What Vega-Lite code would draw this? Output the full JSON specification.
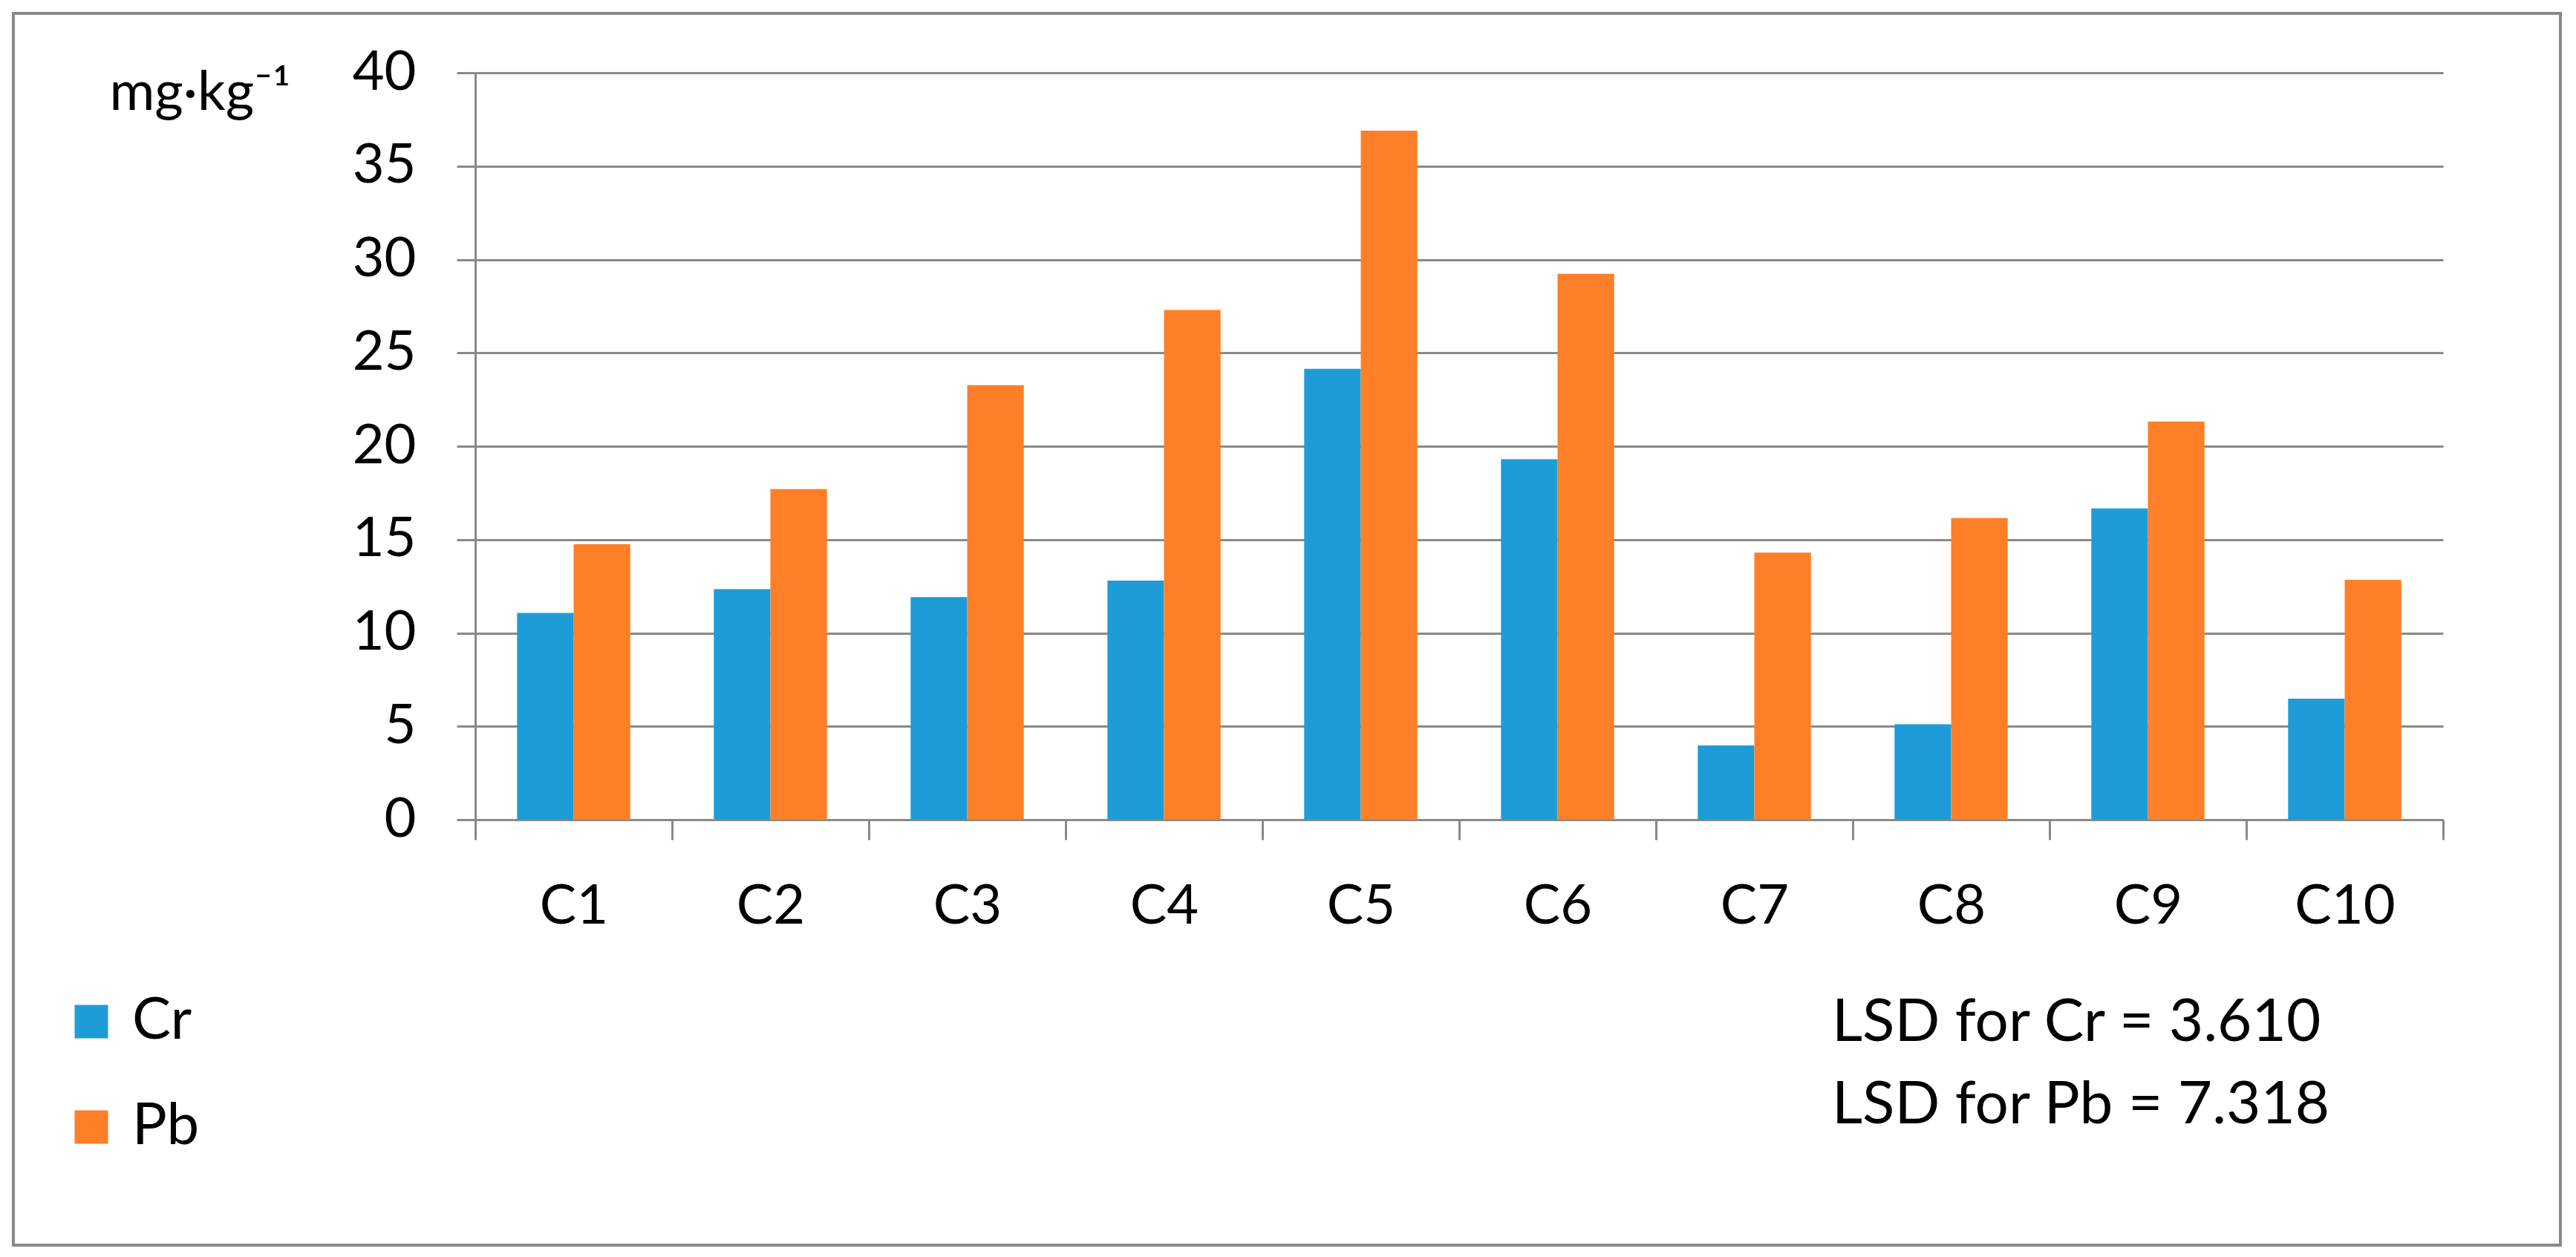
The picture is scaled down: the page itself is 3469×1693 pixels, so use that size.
{
  "$schema": "https://vega.github.io/schema/vega-lite/v6.json",
  "autosize": {"type": "none"},
  "width": 3430,
  "height": 1659,
  "padding": {"left": 18, "top": 18, "right": 21, "bottom": 16},
  "background": "white",
  "config": {
    "font": "Lato",
    "view": {"stroke": "#898989", "strokeWidth": 4}
  },
  "title": {
    "text": ["LSD for Cr = 3.610", "LSD for Pb = 7.318"],
    "orient": "top",
    "anchor": "start",
    "frame": "group",
    "align": "left",
    "baseline": "top",
    "fontSize": 80,
    "lineHeight": 111,
    "font": "Lato",
    "fontWeight": "normal",
    "color": "#000000",
    "offset": 0,
    "dx": 2449,
    "dy": 1512
  },
  "data": {
    "values": [
      {"site": "C1", "metal": "Cr", "value": 11.07},
      {"site": "C2", "metal": "Cr", "value": 12.35},
      {"site": "C3", "metal": "Cr", "value": 11.92},
      {"site": "C4", "metal": "Cr", "value": 12.8},
      {"site": "C5", "metal": "Cr", "value": 24.15},
      {"site": "C6", "metal": "Cr", "value": 19.3},
      {"site": "C7", "metal": "Cr", "value": 3.98},
      {"site": "C8", "metal": "Cr", "value": 5.11},
      {"site": "C9", "metal": "Cr", "value": 16.67},
      {"site": "C10", "metal": "Cr", "value": 6.48},
      {"site": "C1", "metal": "Pb", "value": 14.75},
      {"site": "C2", "metal": "Pb", "value": 17.7},
      {"site": "C3", "metal": "Pb", "value": 23.27},
      {"site": "C4", "metal": "Pb", "value": 27.3},
      {"site": "C5", "metal": "Pb", "value": 36.9},
      {"site": "C6", "metal": "Pb", "value": 29.23},
      {"site": "C7", "metal": "Pb", "value": 14.3},
      {"site": "C8", "metal": "Pb", "value": 16.15},
      {"site": "C9", "metal": "Pb", "value": 21.32},
      {"site": "C10", "metal": "Pb", "value": 12.84}
    ]
  },
  "mark": {"type": "bar"},
  "encoding": {
    "x": {
      "field": "site",
      "type": "nominal",
      "sort": ["C1", "C2", "C3", "C4", "C5", "C6", "C7", "C8", "C9", "C10"],
      "scale": {"range": [622, 3272], "paddingInner": 0, "paddingOuter": 0},
      "axis": {
        "title": null,
        "offset": -573,
        "labelAngle": 0,
        "labelFontSize": 74,
        "labelColor": "#000000",
        "labelPadding": 54,
        "tickBand": "extent",
        "tickSize": 27,
        "tickWidth": 3,
        "tickColor": "#898989",
        "domainColor": "#898989",
        "domainWidth": 3,
        "grid": false
      }
    },
    "xOffset": {
      "field": "metal",
      "type": "nominal",
      "sort": ["Cr", "Pb"],
      "scale": {"paddingInner": 0, "paddingOuter": 0.739}
    },
    "y": {
      "field": "value",
      "type": "quantitative",
      "scale": {"domain": [0, 40], "nice": false, "range": [1086, 80]},
      "axis": {
        "title": "mg·kg⁻¹",
        "titleAngle": 0,
        "titleAlign": "left",
        "titleBaseline": "alphabetic",
        "titleX": -493,
        "titleY": 129,
        "titleFontSize": 74,
        "titleFontWeight": "normal",
        "titleColor": "#000000",
        "offset": -622,
        "values": [0, 5, 10, 15, 20, 25, 30, 35, 40],
        "labelFontSize": 74,
        "labelColor": "#000000",
        "labelPadding": 55,
        "tickSize": 25,
        "tickWidth": 3,
        "tickColor": "#898989",
        "domainColor": "#898989",
        "domainWidth": 3,
        "grid": true,
        "gridColor": "#898989",
        "gridWidth": 3
      }
    },
    "color": {
      "field": "metal",
      "type": "nominal",
      "sort": ["Cr", "Pb"],
      "scale": {"domain": ["Cr", "Pb"], "range": ["#1E9CD7", "#FE7F27"]},
      "legend": {
        "title": null,
        "orient": "none",
        "legendX": 66,
        "legendY": 1319,
        "padding": 0,
        "symbolType": "square",
        "symbolSize": 2025,
        "symbolStrokeWidth": 0,
        "symbolOpacity": 1,
        "labelFontSize": 78,
        "labelColor": "#000000",
        "labelOffset": 16,
        "rowPadding": 64
      }
    }
  }
}
